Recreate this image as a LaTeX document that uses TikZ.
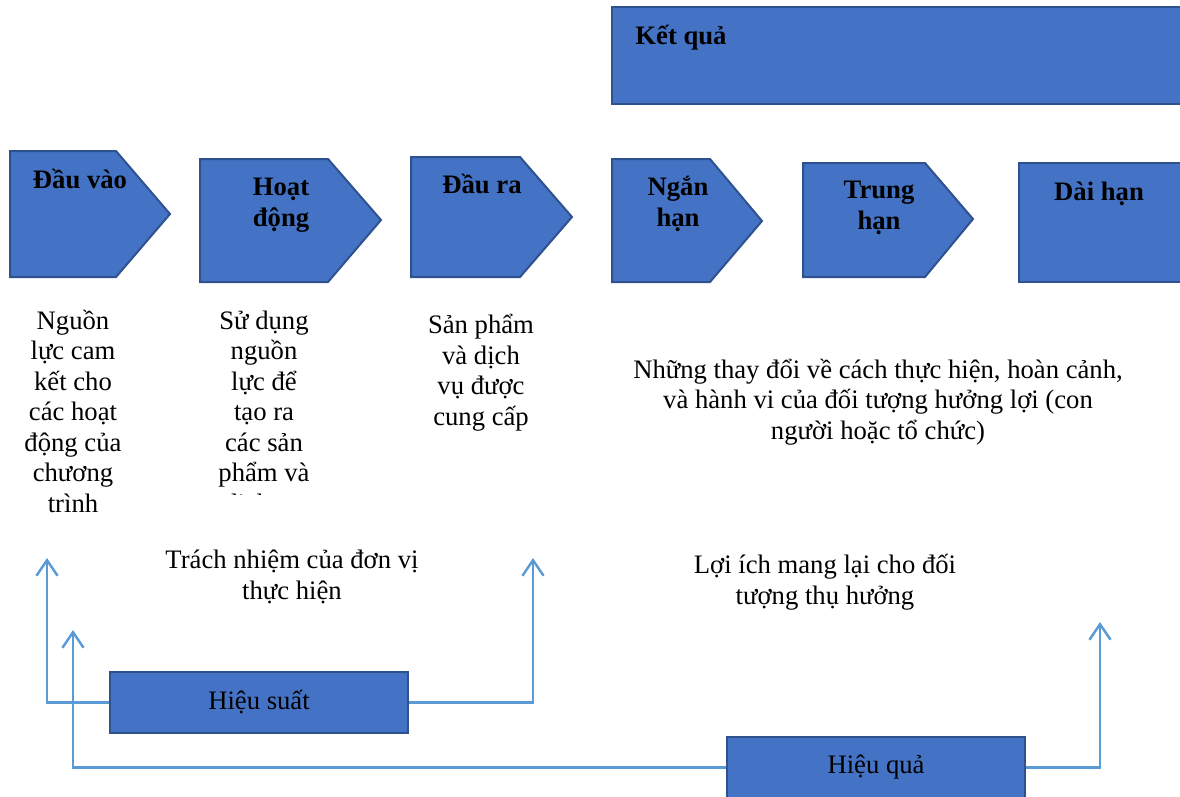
\documentclass[tikz,border=0pt]{standalone}
\usepackage{fontspec}
\setmainfont{Liberation Serif}
\usetikzlibrary{arrows.meta}
\definecolor{boxfill}{HTML}{4472C4}
\definecolor{boxline}{HTML}{2F528F}
\definecolor{linkblue}{HTML}{5B9BD5}
\begin{document}
\begin{tikzpicture}[x=0.45pt,y=-0.45pt,
  stage/.style={fill=boxfill,draw=boxline,line width=0.9pt},
  head/.style={font=\bfseries\fontsize{12}{13.95}\selectfont,align=center,anchor=base,inner sep=0pt},
  body/.style={font=\fontsize{12}{13.7}\selectfont,align=center,anchor=base,inner sep=0pt},
  measure/.style={fill=boxfill,draw=boxline,line width=0.9pt,minimum width=134pt,
    minimum height=27.5pt,font=\fontsize{12}{14}\selectfont,inner sep=0pt},
  link/.style={draw=linkblue,line width=1.1pt},
  tip/.style={-{Straight Barb[length=7pt,width=9.5pt]}}
]
\useasboundingbox (0,0) rectangle (1180,796);
\clip (0,0) rectangle (1180,796);

% results banner
\draw[stage] (612,7) rectangle (1190,104);
\node[head,anchor=base west] (kq) at (635,44) {Kết quả};

% chain of stages (multi-line labels are placed by their last baseline)
\draw[stage] (10,151) -- (116,151) -- (170,214) -- (116,277) -- (10,277) -- cycle;
\draw[stage] (200,159) -- (328,159) -- (381,220) -- (328,282) -- (200,282) -- cycle;
\draw[stage] (411,157) -- (520,157) -- (572,217) -- (520,277) -- (411,277) -- cycle;
\draw[stage] (612,159) -- (710,159) -- (762,221) -- (710,282) -- (612,282) -- cycle;
\draw[stage] (803,163) -- (925,163) -- (973,219) -- (925,277) -- (803,277) -- cycle;
\draw[stage] (1019,163) rectangle (1190,282);

\node[head] (dv) at (80,188) {Đầu vào};
\node[head] (hd) at (281,226) {Hoạt\\động};
\node[head] (dr) at (482,193) {Đầu ra};
\node[head] (nh) at (678,226) {Ngắn\\hạn};
\node[head] (th) at (879,229) {Trung\\hạn};
\node[head] (dh) at (1099,200) {Dài hạn};

% descriptions
\node[body] (dvtxt) at (73,512) {Nguồn\\lực cam\\kết cho\\các hoạt\\động của\\chương\\trình};
\begin{scope}
  \clip (180,290) rectangle (350,494);
  \node[body] (hdtxt) at (264,512) {Sử dụng\\nguồn\\lực để\\tạo ra\\các sản\\phẩm và\\dịch vụ};
\end{scope}
\node[body] (drtxt) at (481,425) {Sản phẩm\\và dịch\\vụ được\\cung cấp};
\node[body] (kqtxt) at (878,439) {Những thay đổi về cách thực hiện, hoàn cảnh,\\và hành vi của đối tượng hưởng lợi (con\\người hoặc tổ chức)};

\node[body] (trach) at (292,599) {Trách nhiệm của đơn vị\\thực hiện};
\node[body] (loi) at (825,604) {Lợi ích mang lại cho đối\\tượng thụ hưởng};

% performance measures
\node[measure] (hs) at (259,702.5) {Hiệu suất};
\node[measure] (hq) at (876,767.5) {Hiệu quả};

\coordinate (hsL) at (47,558);
\coordinate (hsR) at (533,558);
\coordinate (hqL) at (73,630);
\coordinate (hqR) at (1100,622);

\draw[link,tip] (hs.west) -| (hsL);
\draw[link,tip] (hs.east) -| (hsR);
\draw[link,tip] (hq.west) -| (hqL);
\draw[link,tip] (hq.east) -| (hqR);
\end{tikzpicture}
\end{document}
